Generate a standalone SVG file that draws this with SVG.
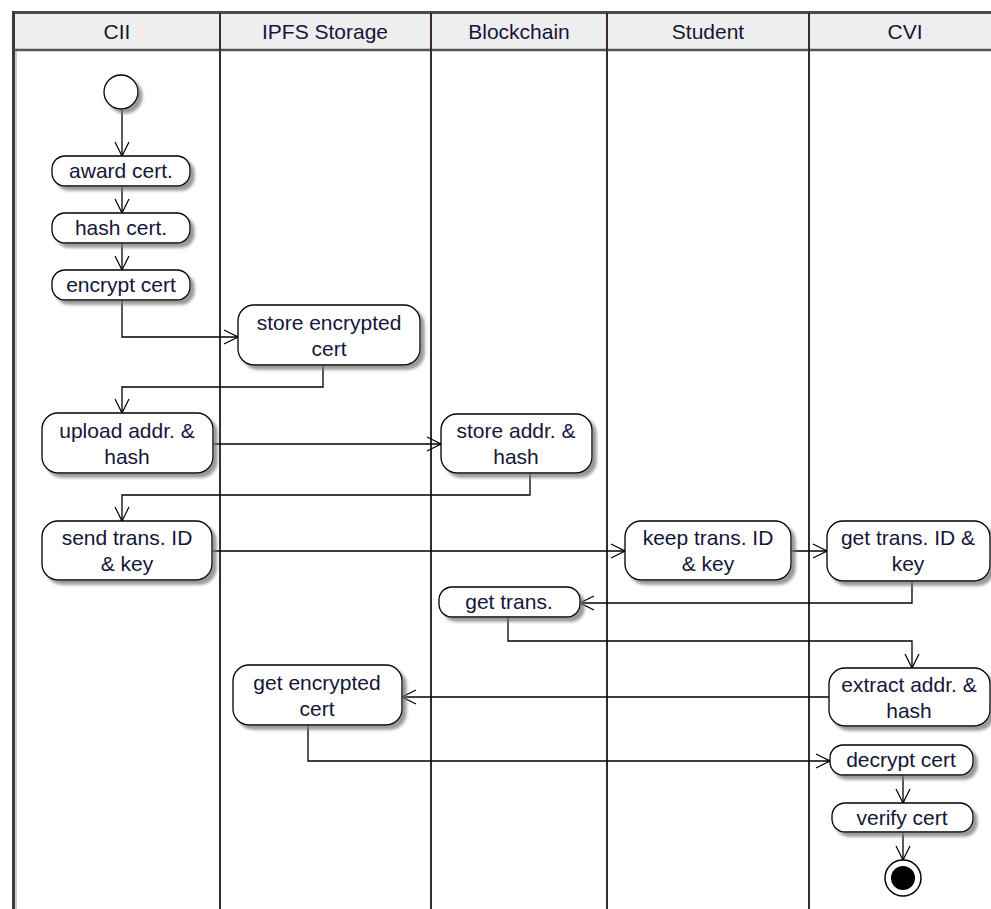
<svg xmlns="http://www.w3.org/2000/svg" width="991" height="909" viewBox="0 0 991 909">
<defs>
<filter id="sh" x="-20%" y="-20%" width="150%" height="160%">
<feDropShadow dx="4" dy="4" stdDeviation="1.5" flood-color="#777" flood-opacity="0.75"/>
</filter>
<marker id="arr" markerWidth="16" markerHeight="16" refX="15" refY="8" orient="auto" markerUnits="userSpaceOnUse">
<path d="M1,1 L15,8 L1,15" fill="none" stroke="#000" stroke-width="1.2"/>
<circle cx="14.5" cy="8" r="1.3" fill="#000"/>
</marker>
</defs>
<style>
.lane{stroke:#3a2c2c;stroke-width:2;fill:none}
.hdr{font-family:"Liberation Sans",Arial,sans-serif;font-size:21px;fill:#15153a;text-anchor:middle}
.node rect{fill:#fff;stroke:#000;stroke-width:1.3;filter:url(#sh)}
.node text{font-family:"Liberation Sans",Arial,sans-serif;font-size:21px;fill:#15153a;text-anchor:middle}
.conn path{fill:none;stroke:#000;stroke-width:1.3;marker-end:url(#arr)}
</style>
<rect x="0" y="0" width="991" height="909" fill="#fff"/>
<!-- swimlane frame -->
<g id="lanes">
<rect x="14" y="13" width="980" height="37" fill="#eeeeee"/>
<line x1="12" y1="12.5" x2="991" y2="12.5" stroke="#4a4a4a" stroke-width="3"/>
<line x1="13.5" y1="11" x2="13.5" y2="909" stroke="#3a3a3a" stroke-width="3"/>
<line x1="16" y1="51" x2="16" y2="909" stroke="#999" stroke-width="1"/>
<line x1="14" y1="50" x2="991" y2="50" stroke="#555" stroke-width="2.5"/>
<line class="lane" x1="220" y1="13" x2="220" y2="909"/>
<line class="lane" x1="431" y1="13" x2="431" y2="909"/>
<line class="lane" x1="607" y1="13" x2="607" y2="909"/>
<line class="lane" x1="809" y1="13" x2="809" y2="909"/>
<text class="hdr" x="117" y="39">CII</text>
<text class="hdr" x="325" y="39">IPFS Storage</text>
<text class="hdr" x="519" y="39">Blockchain</text>
<text class="hdr" x="708" y="39">Student</text>
<text class="hdr" x="905" y="39">CVI</text>
</g>
<g class="conn" id="connectors">
<path d="M122,109 L122,156"/>
<path d="M122,186 L122,213"/>
<path d="M122,243 L122,270"/>
<path d="M122,300 L122,337 L238,337"/>
<path d="M323,365 L323,387 L122,387 L122,413"/>
<path d="M213,444 L441,444"/>
<path d="M530,473 L530,495 L122,495 L122,521"/>
<path d="M212,551 L625,551"/>
<path d="M791,551 L827,551"/>
<path d="M912,581 L912,603 L580,603"/>
<path d="M508,617 L508,641 L912,641 L912,668"/>
<path d="M829,697 L402,697"/>
<path d="M308,725 L308,761 L830,761"/>
<path d="M903,775 L903,803"/>
<path d="M903,832 L903,860"/>
</g>
<g id="start"><circle cx="121" cy="92" r="17" fill="#fff" stroke="#000" stroke-width="1.3" filter="url(#sh)"/></g>
<g class="node" id="award"><rect x="52" y="156" width="138" height="30" rx="13"/><text x="121" y="178">award cert.</text></g>
<g class="node" id="hash"><rect x="52" y="213" width="138" height="30" rx="13"/><text x="121" y="235">hash cert.</text></g>
<g class="node" id="encrypt"><rect x="52" y="270" width="138" height="30" rx="13"/><text x="121" y="292">encrypt cert</text></g>
<g class="node" id="storeenc"><rect x="238" y="305" width="182" height="60" rx="16"/><text x="329" y="330">store encrypted</text><text x="329" y="356">cert</text></g>
<g class="node" id="upload"><rect x="42" y="413" width="171" height="60" rx="16"/><text x="127" y="438">upload addr. &amp;</text><text x="127" y="464">hash</text></g>
<g class="node" id="storeaddr"><rect x="441" y="414" width="151" height="59" rx="16"/><text x="516" y="438">store addr. &amp;</text><text x="516" y="464">hash</text></g>
<g class="node" id="send"><rect x="42" y="521" width="170" height="59" rx="16"/><text x="127" y="545">send trans. ID</text><text x="127" y="571">&amp; key</text></g>
<g class="node" id="keep"><rect x="625" y="521" width="166" height="59" rx="16"/><text x="708" y="545">keep trans. ID</text><text x="708" y="571">&amp; key</text></g>
<g class="node" id="gettransid"><rect x="827" y="521" width="163" height="60" rx="16"/><text x="908" y="545">get trans. ID &amp;</text><text x="908" y="571">key</text></g>
<g class="node" id="gettrans"><rect x="439" y="587" width="141" height="30" rx="13"/><text x="509" y="609">get trans.</text></g>
<g class="node" id="extract"><rect x="829" y="668" width="161" height="58" rx="16"/><text x="909" y="692">extract addr. &amp;</text><text x="909" y="718">hash</text></g>
<g class="node" id="getenc"><rect x="233" y="665" width="169" height="60" rx="16"/><text x="317" y="690">get encrypted</text><text x="317" y="716">cert</text></g>
<g class="node" id="decrypt"><rect x="830" y="745" width="143" height="30" rx="13"/><text x="901" y="767">decrypt cert</text></g>
<g class="node" id="verify"><rect x="832" y="803" width="141" height="29" rx="13"/><text x="902" y="825">verify cert</text></g>
<g id="end"><circle cx="903" cy="878" r="18" fill="#fff" stroke="#000" stroke-width="1.5"/><circle cx="903" cy="878" r="12" fill="#000"/></g>
</svg>
